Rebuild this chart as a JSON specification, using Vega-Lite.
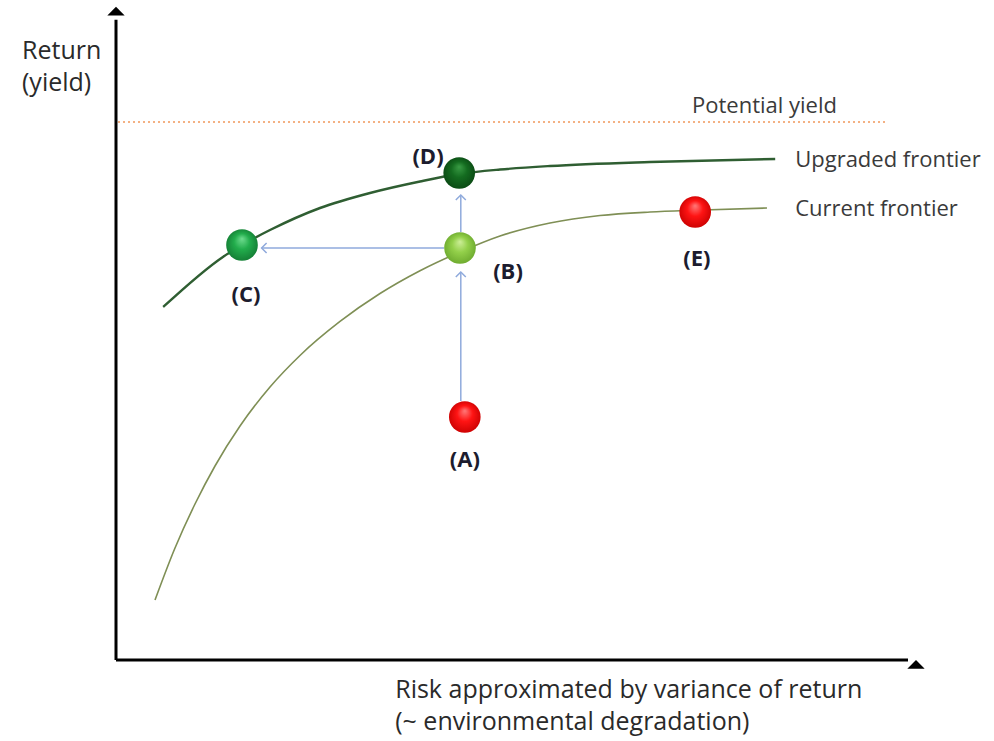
{
  "$schema": "https://vega.github.io/schema/vega-lite/v6.json",
  "width": 994,
  "height": 741,
  "padding": 0,
  "autosize": {"type": "fit", "contains": "padding"},
  "background": "white",
  "config": {"view": {"stroke": null}, "font": "Open Sans"},
  "datasets": {
    "axes": [
      {"x": 0, "y": 0, "x2": 0, "y2": 98.5},
      {"x": 0, "y": 0, "x2": 99, "y2": 0}
    ],
    "axisHeads": [
      {"x": 0, "y": 100.5, "dir": "up"},
      {"x": 100, "y": 0, "dir": "right"}
    ],
    "frontier": [
      {"series": "Current", "x": 4.875, "y": 9.23},
      {"series": "Current", "x": 7.375, "y": 17.23},
      {"series": "Current", "x": 9.875, "y": 24.0},
      {"series": "Current", "x": 12.375, "y": 29.85},
      {"series": "Current", "x": 15.5, "y": 36.0},
      {"series": "Current", "x": 19.25, "y": 42.0},
      {"series": "Current", "x": 23.0, "y": 46.85},
      {"series": "Current", "x": 28.0, "y": 52.08},
      {"series": "Current", "x": 33.0, "y": 56.38},
      {"series": "Current", "x": 38.0, "y": 59.89},
      {"series": "Current", "x": 43.0, "y": 62.77},
      {"series": "Current", "x": 48.0, "y": 65.23},
      {"series": "Current", "x": 54.25, "y": 67.23},
      {"series": "Current", "x": 60.5, "y": 68.38},
      {"series": "Current", "x": 66.75, "y": 68.92},
      {"series": "Current", "x": 72.375, "y": 69.2},
      {"series": "Current", "x": 81.375, "y": 69.54},
      {"series": "Upgraded", "x": 5.9, "y": 54.31},
      {"series": "Upgraded", "x": 13.41, "y": 62.05},
      {"series": "Upgraded", "x": 15.75, "y": 63.85},
      {"series": "Upgraded", "x": 19.25, "y": 66.15},
      {"series": "Upgraded", "x": 25.5, "y": 69.54},
      {"series": "Upgraded", "x": 31.75, "y": 71.85},
      {"series": "Upgraded", "x": 38.0, "y": 73.62},
      {"series": "Upgraded", "x": 42.875, "y": 74.77},
      {"series": "Upgraded", "x": 48.0, "y": 75.46},
      {"series": "Upgraded", "x": 54.25, "y": 76.0},
      {"series": "Upgraded", "x": 66.75, "y": 76.62},
      {"series": "Upgraded", "x": 82.4, "y": 77.08}
    ],
    "potential": [
      {"x": 0.25, "y": 82.77},
      {"x": 96.5, "y": 82.77}
    ],
    "arrows": [
      {"x": 43.1, "y": 39.85, "x2": 43.1, "y2": 59.7},
      {"x": 43.1, "y": 65.85, "x2": 43.1, "y2": 71.54},
      {"x": 41.0, "y": 63.38, "x2": 18.2, "y2": 63.38}
    ],
    "arrowHeads": [
      {"x": 43.1, "y": 59.7, "dir": "up"},
      {"x": 43.1, "y": 71.54, "dir": "up"},
      {"x": 18.2, "y": 63.38, "dir": "left"}
    ],
    "points": [
      {"label": "A", "x": 43.6, "y": 37.38},
      {"label": "B", "x": 43.0, "y": 63.38},
      {"label": "C", "x": 15.75, "y": 63.85},
      {"label": "D", "x": 42.9, "y": 74.92},
      {"label": "E", "x": 72.4, "y": 68.92}
    ],
    "pointLabels": [
      {"text": "(A)", "x": 43.6, "y": 30.77},
      {"text": "(B)", "x": 49.0, "y": 59.69},
      {"text": "(C)", "x": 16.25, "y": 56.15},
      {"text": "(D)", "x": 39.0, "y": 77.38},
      {"text": "(E)", "x": 72.6, "y": 61.69}
    ],
    "notes": [
      {"text": "Potential yield", "x": 72.0, "y": 85.23},
      {"text": "Upgraded frontier", "x": 84.9, "y": 76.92},
      {"text": "Current frontier", "x": 84.9, "y": 69.38}
    ],
    "axisTitles": [
      {"text": "Return\n(yield)", "x": -11.75, "y": 93.69},
      {"text": "Risk approximated by variance of return\n(~ environmental degradation)", "x": 34.9, "y": -4.62}
    ]
  },
  "encoding": {
    "x": {"field": "x", "type": "quantitative", "axis": null, "scale": {"domain": [-14.5, 109.75], "nice": false, "zero": false}},
    "y": {"field": "y", "type": "quantitative", "axis": null, "scale": {"domain": [-12.46, 101.54], "nice": false, "zero": false}}
  },
  "layer": [
    {
      "data": {"name": "potential"},
      "mark": {"type": "line", "color": "#f4b183", "strokeWidth": 2, "strokeDash": [2, 3]}
    },
    {
      "data": {"name": "frontier"},
      "transform": [{"filter": "datum.series == 'Current'"}],
      "mark": {"type": "line", "color": "#7f8f55", "strokeWidth": 1.6, "interpolate": "monotone"}
    },
    {
      "data": {"name": "frontier"},
      "transform": [{"filter": "datum.series == 'Upgraded'"}],
      "mark": {"type": "line", "color": "#2f5e32", "strokeWidth": 2.4, "interpolate": "monotone"}
    },
    {
      "data": {"name": "arrows"},
      "mark": {"type": "rule", "color": "#8faadc", "strokeWidth": 1.5},
      "encoding": {"x2": {"field": "x2"}, "y2": {"field": "y2"}}
    },
    {
      "data": {"name": "arrowHeads"},
      "mark": {"type": "point", "filled": false, "color": "#8faadc", "strokeWidth": 1.5, "size": 100, "opacity": 1},
      "encoding": {
        "shape": {"field": "dir", "type": "nominal", "legend": null,
          "scale": {"domain": ["up", "left"], "range": ["M-1,1L0,0L1,1", "M1,-1L0,0L1,1"]}}
      }
    },
    {
      "data": {"name": "axes"},
      "mark": {"type": "rule", "color": "#000000", "strokeWidth": 3},
      "encoding": {"x2": {"field": "x2"}, "y2": {"field": "y2"}}
    },
    {
      "data": {"name": "axisHeads"},
      "mark": {"type": "point", "filled": true, "color": "#000000", "size": 300, "opacity": 1},
      "encoding": {
        "shape": {"field": "dir", "type": "nominal", "legend": null,
          "scale": {"domain": ["up", "right"], "range": ["M0,0L-0.7,1.7L0.7,1.7Z", "M0,0L-1.7,-0.7L-1.7,0.7Z"]}}
      }
    },
    {
      "data": {"name": "points"},
      "transform": [{"filter": "datum.label == 'A' || datum.label == 'E'"}],
      "mark": {"type": "point", "filled": true, "size": 1000, "opacity": 1,
        "fill": {"gradient": "radial", "x1": 0.5, "y1": 0.3, "r1": 0, "x2": 0.5, "y2": 0.5, "r2": 0.55,
          "stops": [{"offset": 0, "color": "#ff7a7a"}, {"offset": 0.45, "color": "#ff1414"}, {"offset": 1, "color": "#c80000"}]}}
    },
    {
      "data": {"name": "points"},
      "transform": [{"filter": "datum.label == 'B'"}],
      "mark": {"type": "point", "filled": true, "size": 1000, "opacity": 1,
        "fill": {"gradient": "radial", "x1": 0.5, "y1": 0.3, "r1": 0, "x2": 0.5, "y2": 0.5, "r2": 0.55,
          "stops": [{"offset": 0, "color": "#cdee98"}, {"offset": 0.45, "color": "#93d04a"}, {"offset": 1, "color": "#6aa72c"}]}}
    },
    {
      "data": {"name": "points"},
      "transform": [{"filter": "datum.label == 'C'"}],
      "mark": {"type": "point", "filled": true, "size": 1000, "opacity": 1,
        "fill": {"gradient": "radial", "x1": 0.5, "y1": 0.3, "r1": 0, "x2": 0.5, "y2": 0.5, "r2": 0.55,
          "stops": [{"offset": 0, "color": "#6fdc8f"}, {"offset": 0.45, "color": "#22ad4c"}, {"offset": 1, "color": "#137a33"}]}}
    },
    {
      "data": {"name": "points"},
      "transform": [{"filter": "datum.label == 'D'"}],
      "mark": {"type": "point", "filled": true, "size": 1000, "opacity": 1,
        "fill": {"gradient": "radial", "x1": 0.5, "y1": 0.3, "r1": 0, "x2": 0.5, "y2": 0.5, "r2": 0.55,
          "stops": [{"offset": 0, "color": "#3a9c45"}, {"offset": 0.45, "color": "#146c20"}, {"offset": 1, "color": "#0a4713"}]}}
    },
    {
      "data": {"name": "pointLabels"},
      "mark": {"type": "text", "fontSize": 22, "fontWeight": "bold", "color": "#1c1c2e", "align": "center", "baseline": "middle"},
      "encoding": {"text": {"field": "text"}}
    },
    {
      "data": {"name": "notes"},
      "mark": {"type": "text", "fontSize": 22, "color": "#3a3a3a", "align": "left", "baseline": "middle"},
      "encoding": {"text": {"field": "text"}}
    },
    {
      "data": {"name": "axisTitles"},
      "mark": {"type": "text", "fontSize": 25, "color": "#2a2a2a", "align": "left", "baseline": "middle", "lineBreak": "\n", "lineHeight": 32},
      "encoding": {"text": {"field": "text"}}
    }
  ]
}
